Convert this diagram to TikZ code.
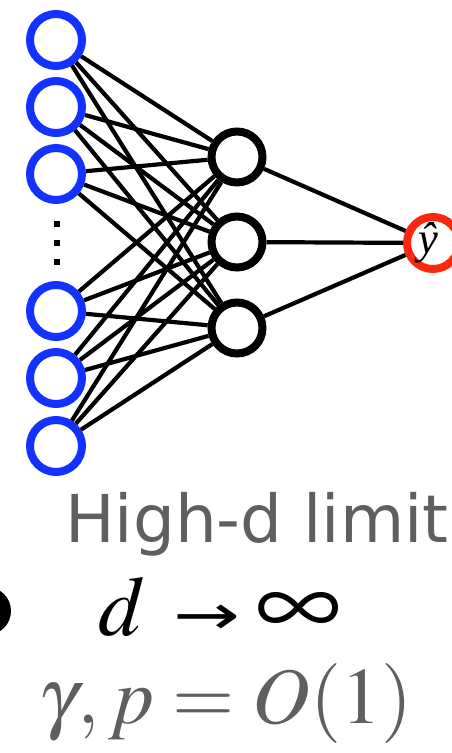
\documentclass[tikz,border=0pt]{standalone}
\usepackage{mathptmx}
\usepackage[no-math]{fontspec}
\newfontfamily\labelfont{DejaVu Sans}
\newfontfamily\symbfont{Liberation Serif}
\definecolor{inblue}{RGB}{20,50,255}
\definecolor{outred}{RGB}{250,40,15}
\definecolor{textgray}{RGB}{95,95,95}
\begin{document}
\begin{tikzpicture}[x=1pt, y=-1pt]
  \tikzset{
    neuron/.style={circle, draw, line width=8pt, inner sep=0pt, minimum size=52pt, fill=white},
    inputnode/.style={neuron, draw=inblue},
    hiddennode/.style={neuron, draw=black, minimum size=51pt},
    outputnode/.style={neuron, draw=outred},
    weight/.style={line width=4.2pt},
    caption/.style={anchor=base west, inner sep=0pt, font=\fontsize{85}{85}\selectfont},
    symb/.style={inner sep=0pt, font=\symbfont}
  }
  \useasboundingbox (0,0) rectangle (451,753);

  \node[inputnode] (in1) at (56,40) {};
  \node[inputnode] (in2) at (56,107) {};
  \node[inputnode] (in3) at (56,174) {};
  \node[inputnode] (in4) at (56,311) {};
  \node[inputnode] (in5) at (56,378) {};
  \node[inputnode] (in6) at (56,446) {};
  \fill (54,221) rectangle (60,227);
  \fill (54,240) rectangle (60,246);
  \fill (54,259) rectangle (60,265);

  \node[hiddennode] (hid1) at (237,157) {};
  \node[hiddennode] (hid2) at (237,242) {};
  \node[hiddennode] (hid3) at (237,328) {};

  \node[outputnode] (out) at (433,243) {};
  \node[symb] (yhat) at (428,243) {\resizebox{!}{31pt}{\itshape ŷ}};

  \draw[weight] (in1) -- (hid1) (in1) -- (hid2) (in1) -- (hid3);
  \draw[weight] (in2) -- (hid1) (in2) -- (hid2) (in2) -- (hid3);
  \draw[weight] (in3) -- (hid1) (in3) -- (hid2) (in3) -- (hid3);
  \draw[weight] (in4) -- (hid1) (in4) -- (hid2) (in4) -- (hid3);
  \draw[weight] (in5) -- (hid1) (in5) -- (hid2) (in5) -- (hid3);
  \draw[weight] (in6) -- (hid1) (in6) -- (hid2) (in6) -- (hid3);
  \draw[weight] (hid1) -- (out) (hid2) -- (out) (hid3) -- (out);

  \node[caption, text=textgray, font=\labelfont\fontsize{66}{66}\selectfont] (limit) at (65,542) {High-d limit};

  \fill (-13,611) circle (24pt);
  \node[caption] (dvar) at (98,635) {$d$};
  \node[symb, anchor=base, font=\labelfont\fontsize{80}{80}\selectfont] (arrow) at (207,634) {\scalebox{1}[0.7]{→}};
  \node[symb] (infty) at (299,614) {\resizebox{86pt}{42pt}{$\infty$}};

  \node[caption, text=textgray, font=\fontsize{80}{80}\selectfont] (scaling) at (38,723) {$\gamma, p = O(1)$};
\end{tikzpicture}
\end{document}
